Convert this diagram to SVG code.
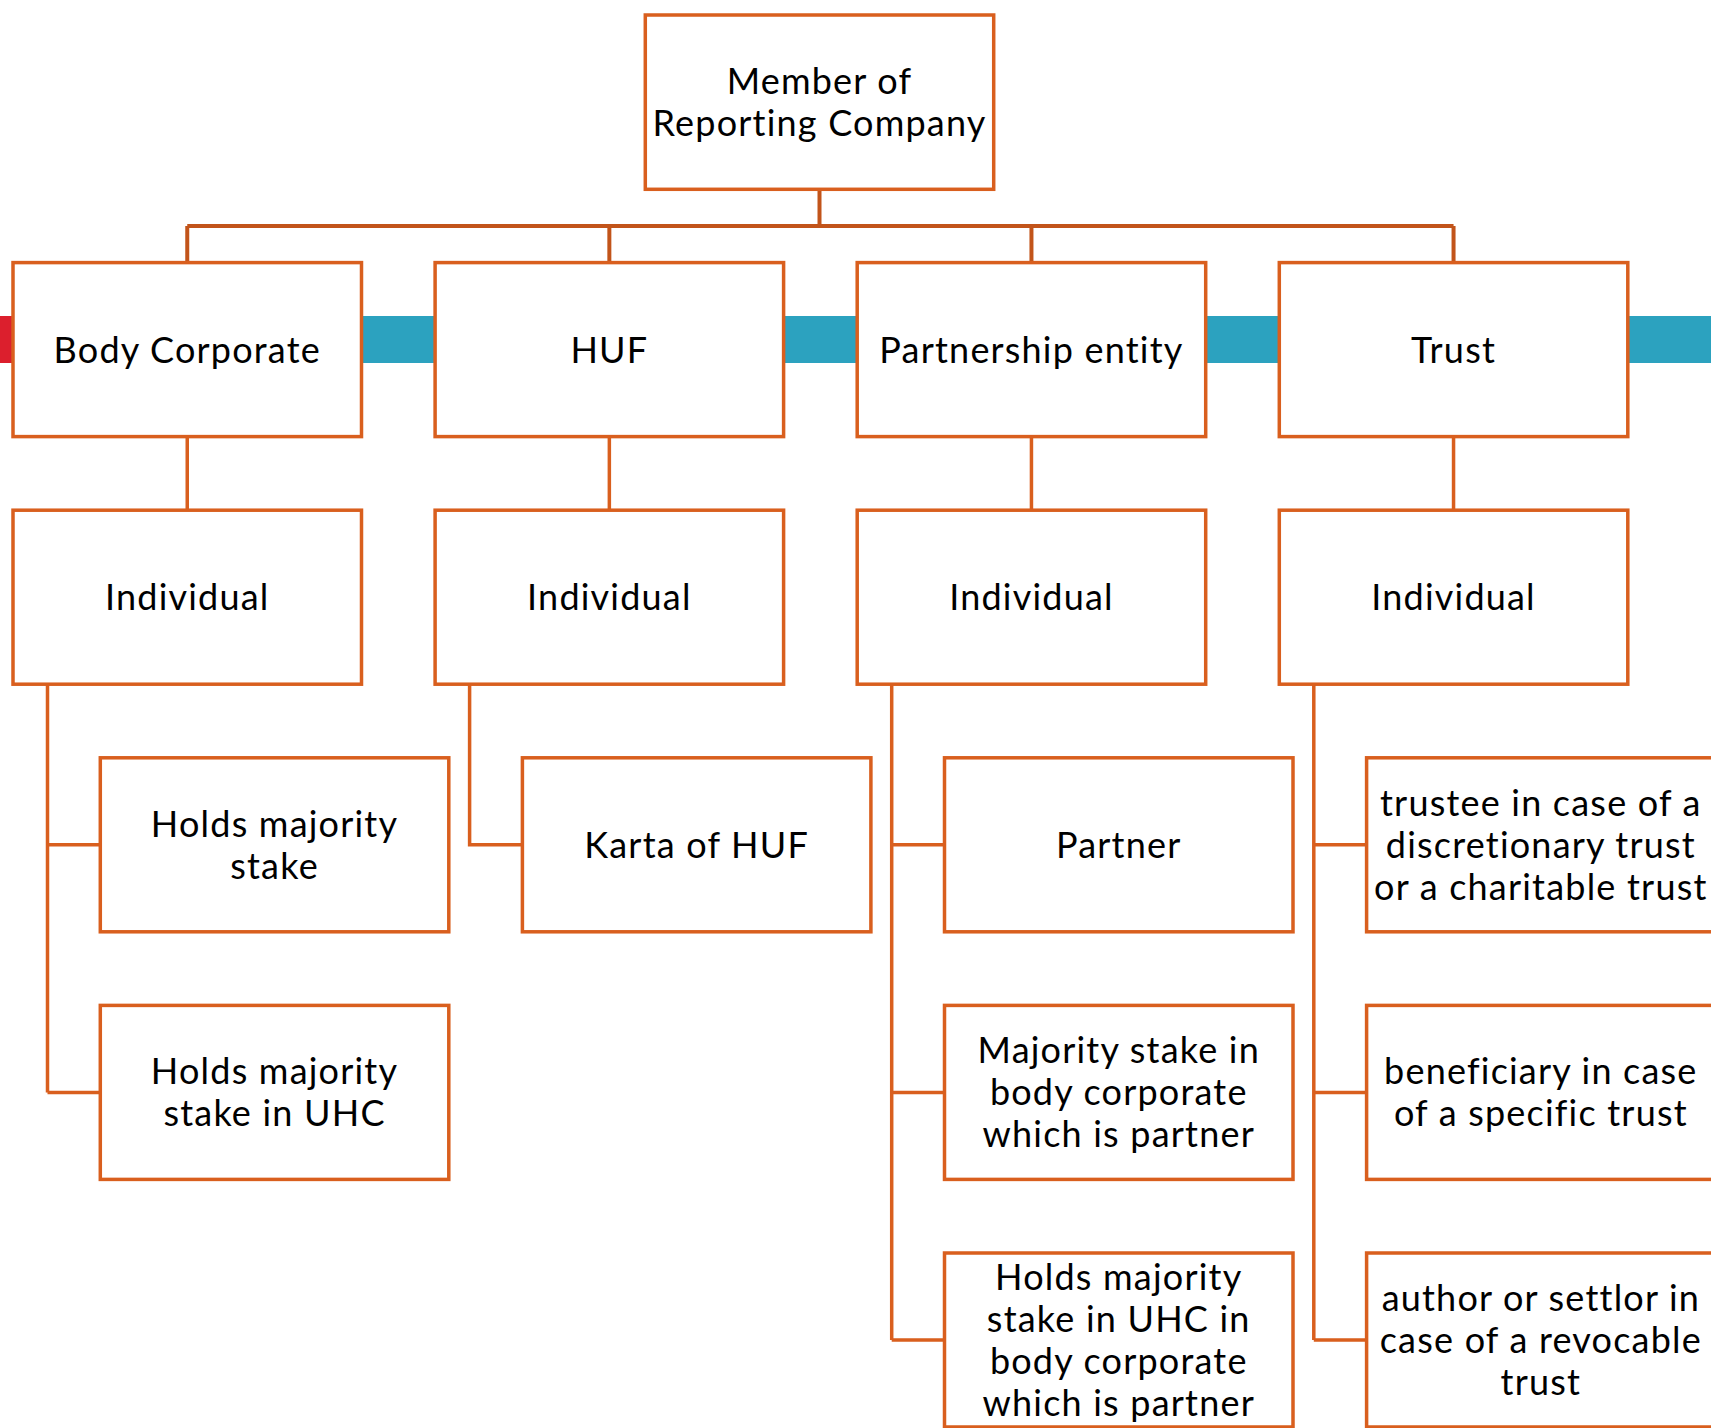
<svg xmlns="http://www.w3.org/2000/svg" width="1711" height="1428" viewBox="0 0 1711 1428">
  <style>
    .box{fill:#ffffff;stroke:#D95F1E;stroke-width:3.5}
    .lbl{font-family:Lato,"Liberation Sans",sans-serif;font-size:36px;fill:#000000;text-anchor:middle;letter-spacing:1.2px}
    .bus{stroke:#C2541A;stroke-width:4;fill:none}
    .link{stroke:#D95F1E;stroke-width:3.5;fill:none}
  </style>

  <!-- background band behind the first level -->
  <g id="band">
    <rect x="0" y="316" width="12" height="47" fill="#DC1F2D"/>
    <rect x="12" y="316" width="1699" height="47" fill="#2CA2BF"/>
  </g>

  <!-- connectors -->
  <g id="connectors">
    <path class="bus" d="M819.5 189.3 V226 M187.25 226 H1453.55 M187.25 226 V262.6 M609.35 226 V262.6 M1031.45 226 V262.6 M1453.55 226 V262.6"/>
    <path class="link" d="M187.25 436.6 V510.2 M609.35 436.6 V510.2 M1031.45 436.6 V510.2 M1453.55 436.6 V510.2"/>
    <!-- Body Corporate branch -->
    <path class="link" d="M47.5 684.2 V1092.4 M47.5 844.8 H100.3 M47.5 1092.4 H100.3"/>
    <!-- HUF branch -->
    <path class="link" d="M469.6 684.2 V844.8 H522.4"/>
    <!-- Partnership branch -->
    <path class="link" d="M891.7 684.2 V1340 M891.7 844.8 H944.5 M891.7 1092.4 H944.5 M891.7 1340 H944.5"/>
    <!-- Trust branch -->
    <path class="link" d="M1313.8 684.2 V1340 M1313.8 844.8 H1366.6 M1313.8 1092.4 H1366.6 M1313.8 1340 H1366.6"/>
  </g>

  <!-- root -->
  <g id="member">
    <rect class="box" x="645.3" y="15" width="348.4" height="174.3"/>
    <text class="lbl" x="819.5" y="94.2">Member of</text>
    <text class="lbl" x="819.5" y="136.2">Reporting Company</text>
  </g>

  <!-- first level -->
  <g id="body-corporate">
    <rect class="box" x="13" y="262.6" width="348.5" height="174"/>
    <text class="lbl" x="187.25" y="362.6">Body Corporate</text>
  </g>
  <g id="huf">
    <rect class="box" x="435.1" y="262.6" width="348.5" height="174"/>
    <text class="lbl" x="609.35" y="362.6">HUF</text>
  </g>
  <g id="partnership">
    <rect class="box" x="857.2" y="262.6" width="348.5" height="174"/>
    <text class="lbl" x="1031.45" y="362.6">Partnership entity</text>
  </g>
  <g id="trust">
    <rect class="box" x="1279.3" y="262.6" width="348.5" height="174"/>
    <text class="lbl" x="1453.55" y="362.6">Trust</text>
  </g>

  <!-- second level -->
  <g id="individual-body">
    <rect class="box" x="13" y="510.2" width="348.5" height="174"/>
    <text class="lbl" x="187.25" y="610.2">Individual</text>
  </g>
  <g id="individual-huf">
    <rect class="box" x="435.1" y="510.2" width="348.5" height="174"/>
    <text class="lbl" x="609.35" y="610.2">Individual</text>
  </g>
  <g id="individual-partnership">
    <rect class="box" x="857.2" y="510.2" width="348.5" height="174"/>
    <text class="lbl" x="1031.45" y="610.2">Individual</text>
  </g>
  <g id="individual-trust">
    <rect class="box" x="1279.3" y="510.2" width="348.5" height="174"/>
    <text class="lbl" x="1453.55" y="610.2">Individual</text>
  </g>

  <!-- Body Corporate conditions -->
  <g id="body-majority">
    <rect class="box" x="100.3" y="757.8" width="348.5" height="174"/>
    <text class="lbl" x="274.55" y="836.8">Holds majority</text>
    <text class="lbl" x="274.55" y="878.8">stake</text>
  </g>
  <g id="body-uhc">
    <rect class="box" x="100.3" y="1005.4" width="348.5" height="174"/>
    <text class="lbl" x="274.55" y="1084.4">Holds majority</text>
    <text class="lbl" x="274.55" y="1126.4">stake in UHC</text>
  </g>

  <!-- HUF condition -->
  <g id="huf-karta">
    <rect class="box" x="522.4" y="757.8" width="348.5" height="174"/>
    <text class="lbl" x="696.65" y="857.8">Karta of HUF</text>
  </g>

  <!-- Partnership conditions -->
  <g id="partner">
    <rect class="box" x="944.5" y="757.8" width="348.5" height="174"/>
    <text class="lbl" x="1118.75" y="857.8">Partner</text>
  </g>
  <g id="partner-body-corporate">
    <rect class="box" x="944.5" y="1005.4" width="348.5" height="174"/>
    <text class="lbl" x="1118.75" y="1063.4">Majority stake in</text>
    <text class="lbl" x="1118.75" y="1105.4">body corporate</text>
    <text class="lbl" x="1118.75" y="1147.4">which is partner</text>
  </g>
  <g id="partner-uhc">
    <rect class="box" x="944.5" y="1253" width="348.5" height="174"/>
    <text class="lbl" x="1118.75" y="1290">Holds majority</text>
    <text class="lbl" x="1118.75" y="1332">stake in UHC in</text>
    <text class="lbl" x="1118.75" y="1374">body corporate</text>
    <text class="lbl" x="1118.75" y="1416">which is partner</text>
  </g>

  <!-- Trust conditions -->
  <g id="trustee">
    <rect class="box" x="1366.6" y="757.8" width="348.5" height="174"/>
    <text class="lbl" x="1540.85" y="815.8">trustee in case of a</text>
    <text class="lbl" x="1540.85" y="857.8">discretionary trust</text>
    <text class="lbl" x="1540.85" y="899.8">or a charitable trust</text>
  </g>
  <g id="beneficiary">
    <rect class="box" x="1366.6" y="1005.4" width="348.5" height="174"/>
    <text class="lbl" x="1540.85" y="1084.4">beneficiary in case</text>
    <text class="lbl" x="1540.85" y="1126.4">of a specific trust</text>
  </g>
  <g id="settlor">
    <rect class="box" x="1366.6" y="1253" width="348.5" height="174"/>
    <text class="lbl" x="1540.85" y="1311">author or settlor in</text>
    <text class="lbl" x="1540.85" y="1353">case of a revocable</text>
    <text class="lbl" x="1540.85" y="1395">trust</text>
  </g>
</svg>
